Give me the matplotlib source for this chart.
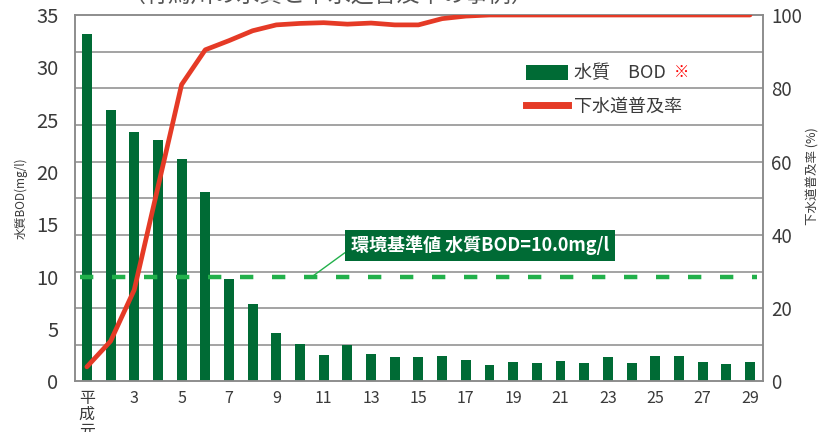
import numpy as np
import matplotlib
matplotlib.use("Agg")
import matplotlib.pyplot as plt
from matplotlib.patches import Patch
from matplotlib.lines import Line2D

plt.rcParams['font.family'] = ['Noto Sans CJK JP', 'DejaVu Sans']

# 平成元年〜29年
years = list(range(1, 30))
bod = [33.2, 25.9, 23.8, 23.1, 21.2, 18.1, 9.8, 7.4, 4.6, 3.6,
       2.5, 3.5, 2.6, 2.3, 2.3, 2.4, 2.1, 1.6, 1.9, 1.8,
       2.0, 1.8, 2.3, 1.8, 2.45, 2.45, 1.9, 1.7, 1.9]
sewer_rate = [4, 11, 25, 53, 81, 90.5, 93, 95.7, 97.3, 97.7,
              97.9, 97.5, 97.8, 97.3, 97.3, 99, 99.7, 100, 100, 100,
              100, 100, 100, 100, 100, 100, 100, 100, 100]
tick_years = years[::2]
tick_labels = ['平\n成\n元'] + [str(y) for y in tick_years[1:]]
bod_standard = 10.0

green = '#006b35'
red = '#e53a26'
dash_green = '#22b04b'
grid_gray = '#8a8a8a'
text_col = '#3a3a3a'

fig = plt.figure(figsize=(8.2, 4.32), dpi=100)
ax1 = fig.add_axes([0.0915, 0.1169, 0.8390, 0.8484])
ax2 = ax1.twinx()

x = np.arange(len(years))
ax1.bar(x, bod, width=0.42, color=green, zorder=2)
ax1.hlines(bod_standard, -0.3, len(years) - 0.7, colors=dash_green,
           linestyles=(0, (3, 4.2)), linewidth=3.2, zorder=3)

ax1.set_xlim(-0.5, len(years) - 0.45)
ax1.set_ylim(0, 35)
ax1.set_yticks(np.arange(0, 36, 5))
ax1.set_yticks(np.linspace(0, 35, 11), minor=True)
ax1.yaxis.grid(True, which='minor', color=grid_gray, linewidth=1.1)
ax1.set_axisbelow(True)
ax1.set_xticks([y - 1 for y in tick_years])
ax1.set_xticklabels(tick_labels, fontsize=11.5, color=text_col, linespacing=0.95)
ax1.tick_params(axis='y', which='both', length=0, labelsize=14.5,
                labelcolor=text_col, pad=12)
ax1.tick_params(axis='x', length=0, pad=6)
ax1.set_ylabel('水質BOD(mg/l)', fontsize=8.5, color=text_col, labelpad=6)

ax2.plot(x, sewer_rate, color=red, linewidth=3.4, solid_capstyle='round', zorder=4)
ax2.set_ylim(0, 100)
ax2.set_yticks(np.arange(0, 101, 20))
ax2.tick_params(axis='y', length=0, labelsize=13.5, labelcolor=text_col, pad=6)
ax2.set_ylabel('下水道普及率 (%)', fontsize=9, color=text_col)
ax2.yaxis.set_label_coords(1.063, 0.56)

for a in (ax1, ax2):
    for s in a.spines.values():
        s.set_color(grid_gray)
        s.set_linewidth(1.1)

ax1.annotate('環境基準値 水質BOD=10.0mg/l', xy=(9.5, bod_standard),
             xytext=(16.6, 13.0), ha='center', va='center',
             fontsize=13, fontweight='bold', color='white', zorder=5,
             bbox=dict(boxstyle='square,pad=0.33', fc=green, ec='none'),
             arrowprops=dict(arrowstyle='-', color=dash_green, lw=1.0,
                             relpos=(0, 0.35), shrinkA=0, shrinkB=0))

handles = [Patch(facecolor=green, edgecolor='none'),
           Line2D([0], [0], color=red, linewidth=5)]
leg = ax2.legend(handles, ['水質　BOD', '下水道普及率'], loc='upper left',
                 bbox_to_anchor=(0.645, 0.885), frameon=False, fontsize=13,
                 handlelength=2.3, handleheight=0.9, handletextpad=0.35,
                 labelspacing=0.85, borderaxespad=0)
for t in leg.get_texts():
    t.set_color(text_col)
fig.text(0.822, 0.833, '※', color='red', fontsize=11, ha='left', va='center',
         bbox=dict(boxstyle='square,pad=0.35', fc='white', ec='none'))

fig.text(0.40, 1.012, '（有馬川の水質と下水道普及率の事例）', fontsize=16.5,
         color='#555555', ha='center', va='center')

fig.savefig('out.png', dpi=100)
